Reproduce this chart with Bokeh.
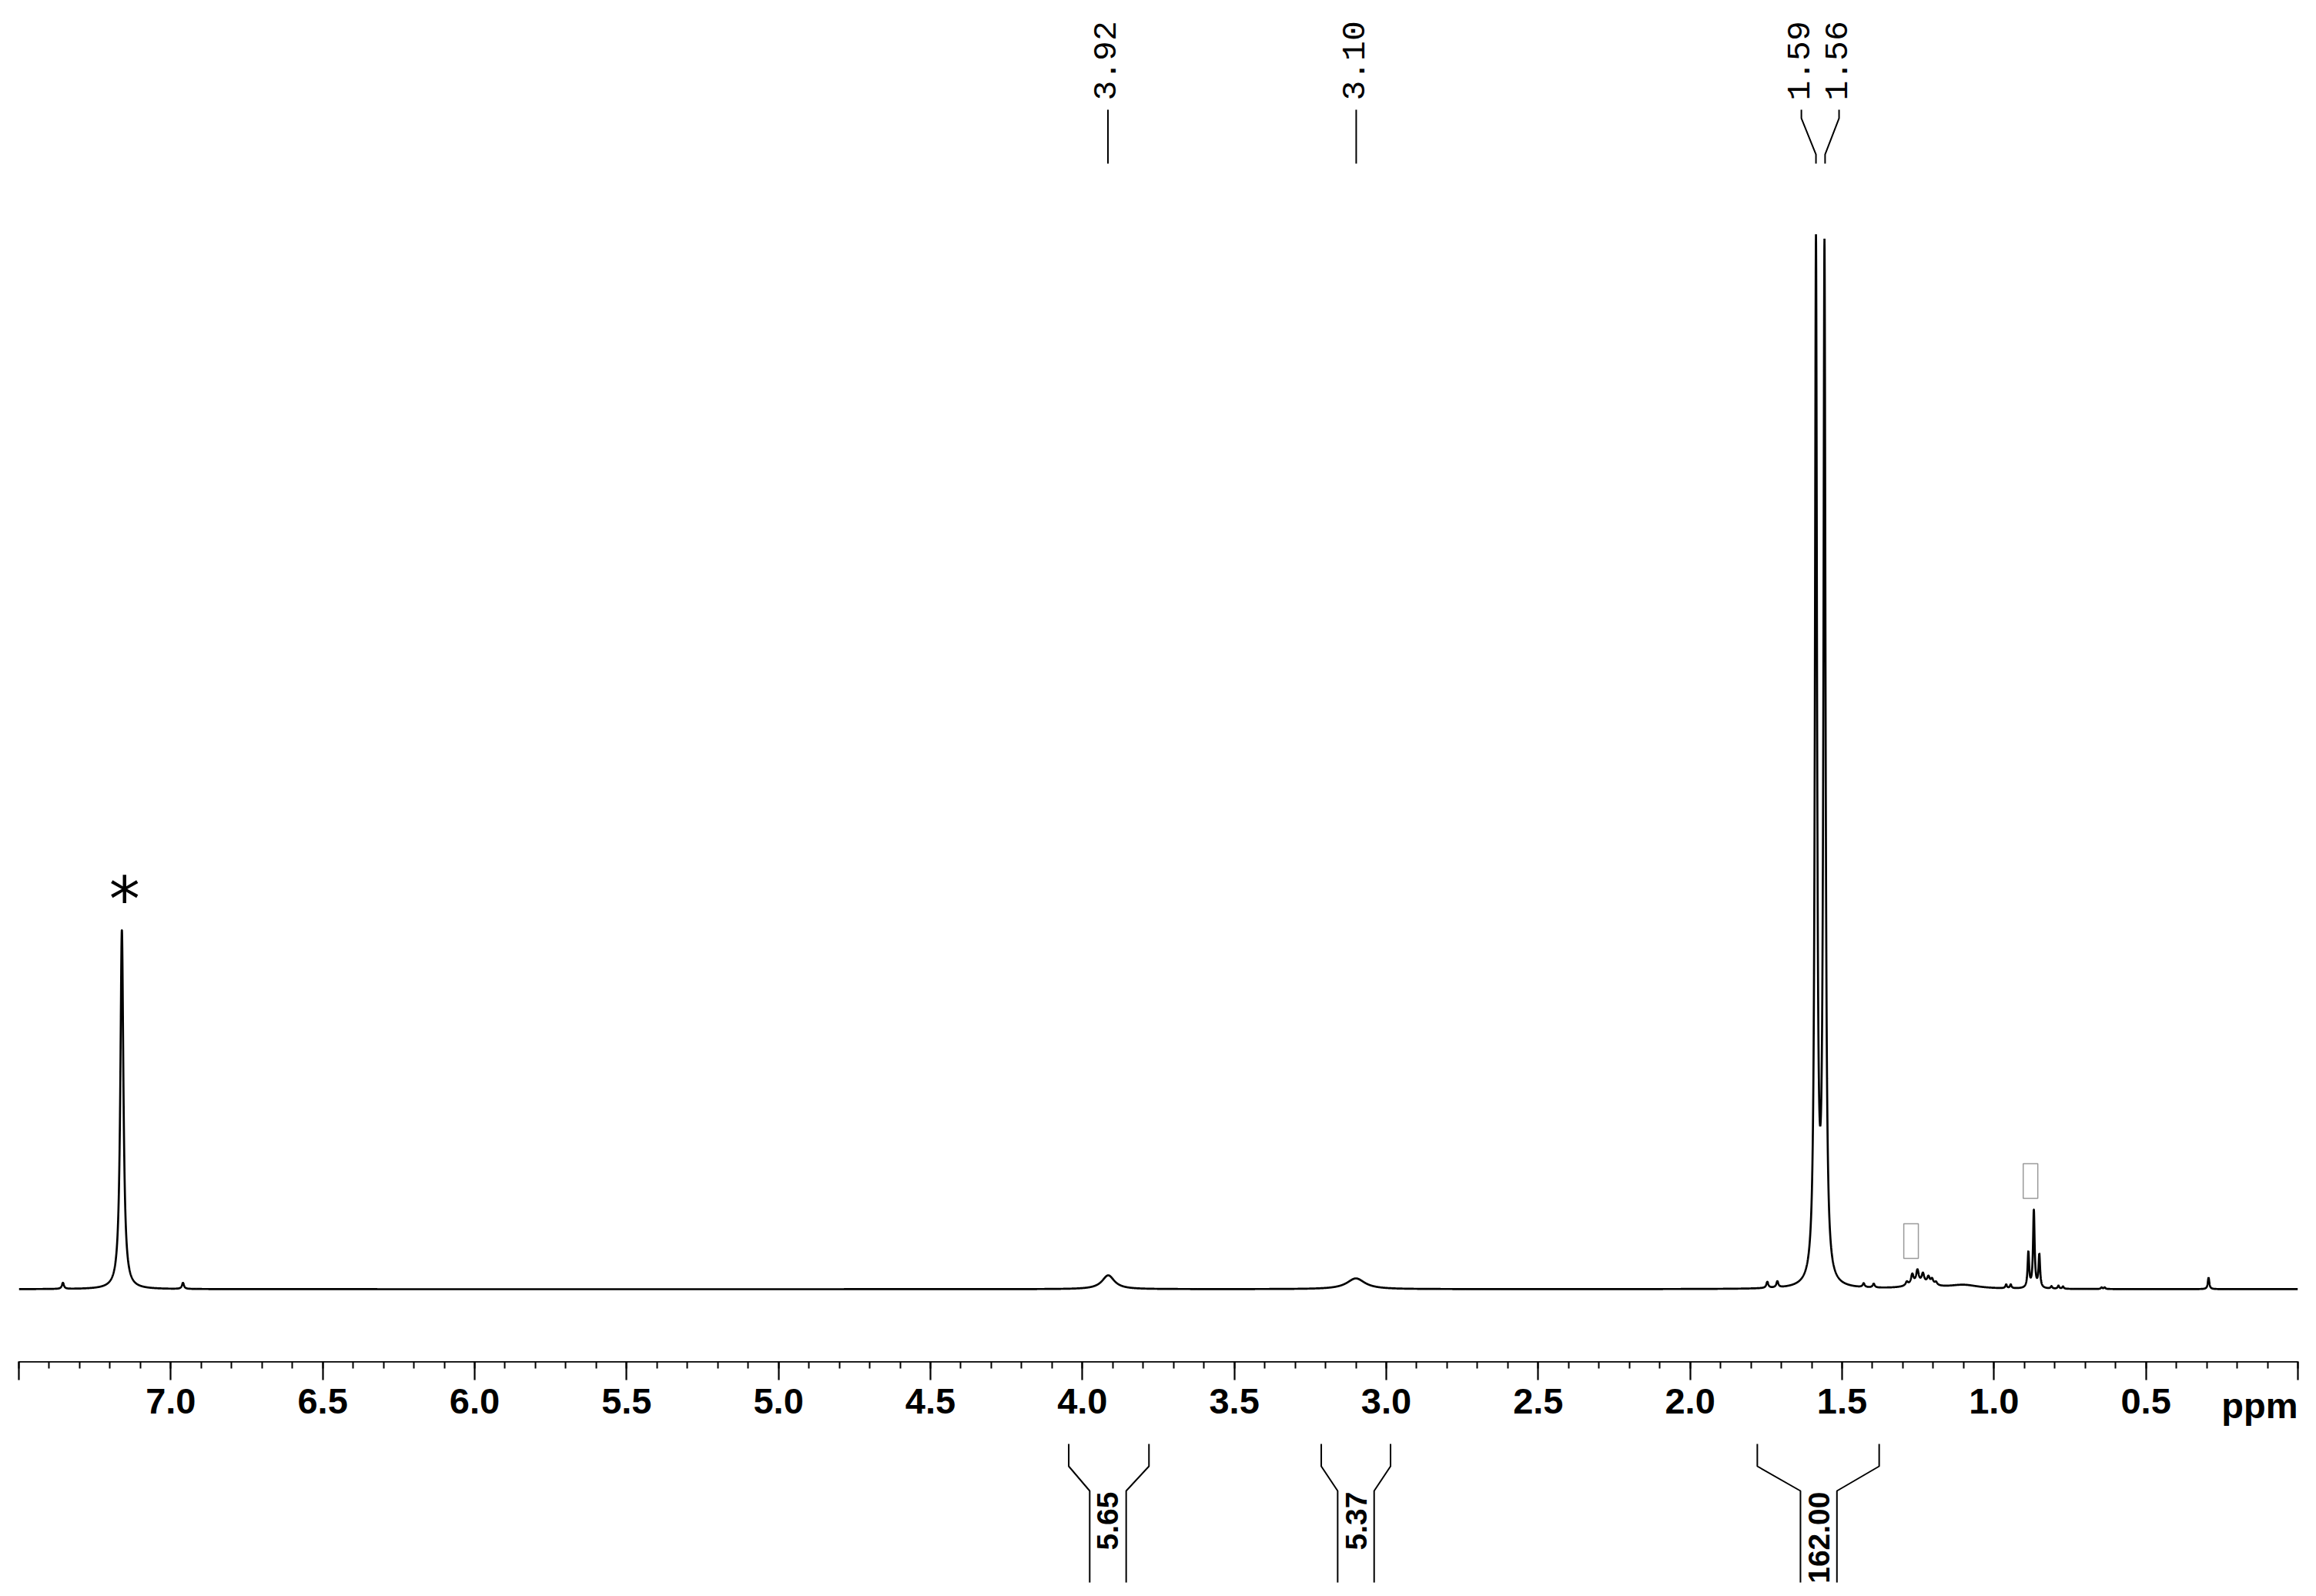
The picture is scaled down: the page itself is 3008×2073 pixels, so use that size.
import numpy as np
from bokeh.plotting import figure
from bokeh.layouts import column
from bokeh.models import Range1d, FixedTicker
from bokeh.core.properties import value
from bokeh.embed import file_html
from bokeh.resources import INLINE

# ---------------- data ----------------
# peak list: chemical shift (ppm), relative intensity (tallest = ~1), half width (ppm)
peak_ppm = [7.355, 7.161, 6.960, 3.915, 3.100, 1.746, 1.713, 1.586, 1.558,
            1.429, 1.396, 1.287, 1.269, 1.252, 1.234, 1.216, 1.204, 1.191,
            1.240, 1.100, 0.960, 0.945, 0.887, 0.869, 0.851, 0.811, 0.788,
            0.773, 0.646, 0.636, 0.294]
peak_int = [0.0058, 0.3406, 0.0058, 0.0131, 0.0102, 0.0058, 0.0058, 0.9788, 0.9745,
            0.0036, 0.0036, 0.0036, 0.0095, 0.0124, 0.0088, 0.0066, 0.0051, 0.0029,
            0.0044, 0.0036, 0.0036, 0.0036, 0.0336, 0.0737, 0.0314, 0.0022, 0.0029,
            0.0022, 0.0015, 0.0015, 0.0109]
peak_hw = [0.004, 0.006, 0.004, 0.025, 0.036, 0.004, 0.004, 0.0041, 0.0041,
           0.004, 0.004, 0.005, 0.005, 0.005, 0.005, 0.005, 0.005, 0.005,
           0.045, 0.06, 0.003, 0.003, 0.003, 0.003, 0.003, 0.003, 0.003,
           0.003, 0.003, 0.003, 0.003]

# peak picking labels (top)
pick_labels = ["3.92", "3.10", "1.59", "1.56"]
pick_peak_ppm = [3.916, 3.099, 1.586, 1.556]
pick_label_ppm = [3.916, 3.099, 1.634, 1.510]

# integrals (bottom)
int_values = ["5.65", "5.37", "162.00"]
int_start = [4.045, 3.214, 1.779]
int_end = [3.781, 2.986, 1.378]
int_center = [3.916, 3.100, 1.577]

# axis ticks
major_ticks = [7.5, 7.0, 6.5, 6.0, 5.5, 5.0, 4.5, 4.0, 3.5, 3.0, 2.5, 2.0, 1.5, 1.0, 0.5, 0.0]
tick_labels = ["", "7.0", "6.5", "6.0", "5.5", "5.0", "4.5", "4.0", "3.5", "3.0",
               "2.5", "2.0", "1.5", "1.0", "0.5", ""]
minor_ticks = [round(7.5 - 0.1 * i, 1) for i in range(76)]
axis_unit = "ppm"

# impurity marker positions (ppm, intensity)
marker_ppm = [1.273, 0.880]
marker_int = [0.0456, 0.1025]
solvent_ppm = 7.152

# ---------------- spectrum ----------------
ppm = np.linspace(7.5, 0.0, 18751)
spec = np.zeros_like(ppm)
for c, a, w in zip(peak_ppm, peak_int, peak_hw):
    spec += a * w * w / ((ppm - c) ** 2 + w * w)

W = 3000
x_range = Range1d(7.5, 0.0)

p = figure(width=W, height=1768, x_range=x_range, y_range=Range1d(-0.06856, 1.2152),
           output_backend="svg", toolbar_location=None, x_axis_location=None, y_axis_location=None,
           min_border_left=24, min_border_right=16, min_border_top=8, min_border_bottom=0)
p.xgrid.visible = False
p.ygrid.visible = False
p.outline_line_color = None

p.line(ppm, spec, line_color="black", line_width=2.7)

# peak picking labels
ys_pick = [1.1174, 1.1094, 1.0751, 1.0664]
xs_lines = [[lp, lp, pp, pp] for lp, pp in zip(pick_label_ppm, pick_peak_ppm)]
p.multi_line(xs=xs_lines, ys=[ys_pick] * len(xs_lines), line_color="black", line_width=2)
p.text(x=[lp + 0.009 for lp in pick_label_ppm], y=[1.1262] * len(pick_labels), text=pick_labels,
       angle=np.pi / 2, text_align="left", text_baseline="middle",
       text_font=value("Liberation Mono"), text_font_size="43px", text_color="black")

# solvent asterisk
p.text(x=[solvent_ppm], y=[0.369], text=["*"], text_align="center", text_baseline="alphabetic",
       text_font=value("DejaVu Sans"), text_font_size="80px", text_color="black")

# unknown-glyph boxes
p.rect(x=marker_ppm, y=marker_int, width=0.048, height=0.0328, fill_color=None,
       line_color="#9a9a9a", line_width=1.5)

# ---------------- axis + integrals ----------------
q = figure(width=W, height=297, x_range=x_range, y_range=Range1d(-297, 0),
           output_backend="svg", toolbar_location=None, x_axis_location="above", y_axis_location=None,
           min_border_left=24, min_border_right=16, min_border_top=0, min_border_bottom=0)
q.xgrid.visible = False
q.ygrid.visible = False
q.outline_line_color = None

ax = q.xaxis[0]
ax.ticker = FixedTicker(ticks=major_ticks, minor_ticks=minor_ticks)
ax.major_label_overrides = {t: l for t, l in zip(major_ticks, tick_labels)}
ax.major_tick_out = 0
ax.major_tick_in = 24
ax.minor_tick_out = 0
ax.minor_tick_in = 9
ax.axis_line_width = 2.5
ax.major_tick_line_width = 2.2
ax.minor_tick_line_width = 2
ax.major_label_text_font = "Liberation Sans"
ax.major_label_text_font_style = "bold"
ax.major_label_text_font_size = "47px"
ax.major_label_standoff = -67
ax.major_label_text_color = "black"

q.text(x=[0.0], y=[-57], text=[axis_unit], text_align="right", text_baseline="alphabetic",
       text_font=value("Liberation Sans"), text_font_style="bold", text_font_size="47px",
       text_color="black")

bx, by = [], []
for s, e, c in zip(int_start, int_end, int_center):
    bx.append([s, s, c + 0.06, c + 0.06])
    by.append([-107, -136, -168, -287])
    bx.append([e, e, c - 0.06, c - 0.06])
    by.append([-107, -136, -168, -287])
q.multi_line(xs=bx, ys=by, line_color="black", line_width=2)
q.text(x=int_center, y=[-169] * len(int_values), text=int_values, angle=np.pi / 2,
       text_align="right", text_baseline="middle", text_font=value("Liberation Sans"),
       text_font_style="bold", text_font_size="39px", text_color="black")

layout = column(p, q, spacing=0)
open("out.html", "w").write(file_html(layout, INLINE))
